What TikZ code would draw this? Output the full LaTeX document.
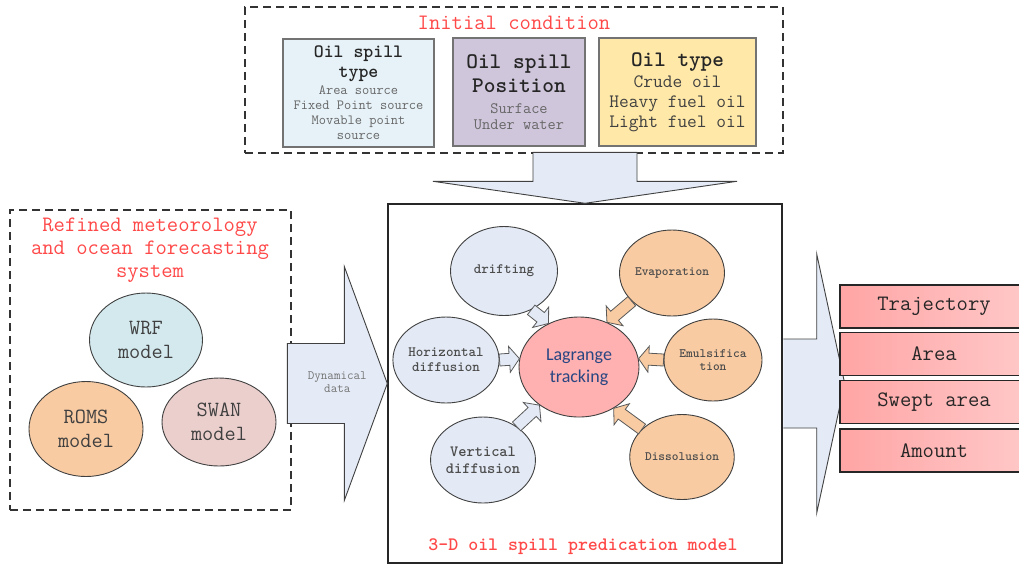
\documentclass[tikz,border=0pt]{standalone}
\usepackage{fontspec}
\usepackage{xcolor}
\renewcommand{\familydefault}{\ttdefault}
\newfontfamily\lagfont{Carlito}
\usetikzlibrary{calc,shapes.geometric}

\definecolor{titlered}{RGB}{255,72,72}
\definecolor{typeblue}{RGB}{230,242,248}
\definecolor{posviolet}{RGB}{208,198,220}
\definecolor{oilyellow}{RGB}{255,232,168}
\definecolor{arrowblue}{RGB}{228,235,246}
\definecolor{procblue}{RGB}{227,234,245}
\definecolor{procpeach}{RGB}{248,203,162}
\definecolor{wrfcyan}{RGB}{211,233,238}
\definecolor{swanpink}{RGB}{234,207,205}
\definecolor{lagpink}{RGB}{255,176,176}
\definecolor{lagtext}{RGB}{40,70,130}
\definecolor{resultleft}{RGB}{255,165,165}
\definecolor{resultright}{RGB}{255,200,200}

% title line inside a condition box
\newcommand{\condttl}[1]{\bfseries\color{black!85}\fontsize{#1}{#1}\selectfont}

% fat arrow from #1 to #2, filled with #3
\newcommand{\blockarrow}[3]{%
  \coordinate (ba-s) at (#1);
  \coordinate (ba-t) at (#2);
  \coordinate (ba-h) at ($(ba-t)!10pt!(ba-s)$);
  \draw[smallarrow, fill=#3] ($(ba-s)!6pt!90:(ba-t)$) -- ($(ba-h)!6pt!-90:(ba-s)$)
    -- ($(ba-h)!13pt!-90:(ba-s)$) -- (ba-t) -- ($(ba-h)!13pt!90:(ba-s)$)
    -- ($(ba-h)!6pt!90:(ba-s)$) -- ($(ba-s)!6pt!-90:(ba-t)$) -- cycle;
}

\begin{document}
\begin{tikzpicture}[x=1pt, y=-1pt,
    dashedbox/.style={draw=black!80, line width=1.6pt, dash pattern=on 8pt off 5pt, inner sep=0pt},
    condbox/.style={draw=black!55, line width=1.4pt, minimum height=108, inner sep=0pt, align=center},
    redtitle/.style={text=titlered, font=\fontsize{22}{23}\selectfont, align=center},
    model/.style={ellipse, draw=black!75, line width=0.9pt, inner sep=0pt, align=center,
      text=black!75, font=\fontsize{21.7}{24}\selectfont},
    process/.style={ellipse, draw=black!75, line width=0.9pt, inner sep=0pt, align=center,
      text=black!70, font=\bfseries\fontsize{14.3}{15}\selectfont},
    result/.style={draw=black!85, line width=1.2pt, left color=resultleft, right color=resultright,
      minimum width=188, minimum height=43, inner sep=0pt, text=black!85, font=\fontsize{22}{23}\selectfont},
    bigarrow/.style={draw=black!75, line width=0.9pt, fill=arrowblue},
    smallarrow/.style={draw=black!65, line width=0.8pt}]
  \useasboundingbox (0,0) rectangle (1019,566);

  % initial condition
  \node[dashedbox, minimum width=538, minimum height=146] (init) at (514,80) {};
  \node[redtitle] (inittitle) at (514,23) {Initial condition};
  \node[condbox, fill=typeblue, minimum width=151, text=black!60, font=\fontsize{14}{20}\selectfont]
    (spilltype) at (358.5,93)
    {\condttl{18.9}Oil spill\\ \condttl{18.9}type\\[-3pt]
     Area source\\[-5pt] Fixed Point source\\[-5pt] Movable point\\[-5pt] source};
  \node[condbox, fill=posviolet, minimum width=132, text=black!60, font=\fontsize{15.9}{24}\selectfont]
    (spillpos) at (519,92)
    {\condttl{22.3}Oil spill\\ \condttl{22.3}Position\\[-3pt] Surface\\[-8pt] Under water};
  \node[condbox, fill=oilyellow, minimum width=157, text=black!75, font=\fontsize{18.9}{21}\selectfont]
    (oiltype) at (677.5,92)
    {\condttl{22.1}Oil type\\ Crude oil\\[-1pt] Heavy fuel oil\\[-1pt] Light fuel oil};

  % forecasting system
  \node[dashedbox, minimum width=281, minimum height=300] (forecast) at (150.5,360) {};
  \node[redtitle] (fctitle) at (150,250) {Refined meteorology\\ and ocean forecasting\\ system};
  \node[model, fill=wrfcyan, minimum width=113, minimum height=94] (wrf) at (146,340) {WRF\\ model};
  \node[model, fill=procpeach, minimum width=114, minimum height=95] (roms) at (86,429) {ROMS\\ model};
  \node[model, fill=swanpink, minimum width=114, minimum height=88] (swan) at (219,422) {SWAN\\ model};

  % oil spill model
  \node[draw=black!85, line width=1.4pt, minimum width=394, minimum height=359] (model) at (585,383.5) {};
  \node[text=titlered, font=\bfseries\fontsize{19}{20}\selectfont] (modeltitle) at (583,547)
    {3-D oil spill predication model};

  \node[ellipse, draw=black!75, line width=0.9pt, fill=lagpink, minimum width=120, minimum height=100,
    inner sep=0pt, align=center, text=lagtext, font=\lagfont\fontsize{18}{22}\selectfont] (lag) at (579,367)
    {Lagrange\\ tracking};
  \node[process, fill=procblue, minimum width=107, minimum height=89] (drift) at (504,271) {drifting};
  \node[process, fill=procblue, minimum width=104, minimum height=86] (hdiff) at (446,360) {Horizontal\\ diffusion};
  \node[process, fill=procblue, minimum width=104, minimum height=86,
    font=\bfseries\fontsize{15.7}{17}\selectfont] (vdiff) at (483,460) {Vertical\\ diffusion};
  \node[process, fill=procpeach, minimum width=105, minimum height=86,
    font=\bfseries\fontsize{12.8}{13}\selectfont] (evap) at (672,273) {Evaporation};
  \node[process, fill=procpeach, minimum width=98, minimum height=82,
    font=\bfseries\fontsize{12.8}{13}\selectfont] (emul) at (713,360) {Emulsifica\\ tion};
  \node[process, fill=procpeach, minimum width=102, minimum height=85,
    font=\bfseries\fontsize{12.8}{13}\selectfont] (diss) at (682,457) {Dissolusion};

  \blockarrow{drift.-55}{lag.125}{procblue}
  \blockarrow{hdiff.east}{lag.172}{procblue}
  \blockarrow{vdiff.45}{lag.-136}{procblue}
  \blockarrow{evap.215}{lag.58}{procpeach}
  \blockarrow{emul.west}{lag.8}{procpeach}
  \blockarrow{diss.145}{lag.-50}{procpeach}

  % big arrows
  \draw[bigarrow, shift={(model.north)}] (-52,-51) -- (-52,-22) -- (-152,-22) -- (0,0)
    -- (152,-22) -- (52,-22) -- (52,-51) -- cycle;
  \draw[bigarrow, shift={(model.west)}] (-100,-40) -- (-43,-40) -- (-43,-117) -- (0,0)
    -- (-43,117) -- (-43,40) -- (-100,40) -- cycle;
  \node[font=\fontsize{12.7}{13}\selectfont, text=black!55, align=center] (dyntext)
    at ($(model.west)+(-50,-1)$) {Dynamical\\ data};
  \draw[bigarrow, shift={(model.east)}] (0.7,-44.5) -- (34,-44.5) -- (34,-129.5) -- (62,0)
    -- (34,129.5) -- (34,44.5) -- (0.7,44.5);

  % results
  \foreach \y/\name/\txt in {306.5/traj/Trajectory, 354/area/Area, 402/swept/Swept area, 450.5/amount/Amount}
    \node[result] (\name) at (934,\y) {\txt};
\end{tikzpicture}
\end{document}
